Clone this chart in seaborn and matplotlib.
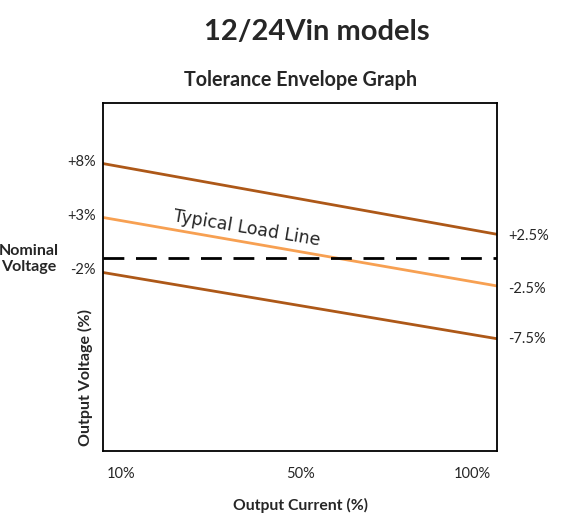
import numpy as np
import pandas as pd
import matplotlib.pyplot as plt
import seaborn as sns

# Output current (%) at the two ends of each envelope line
current = [10, 100]
upper_limit = [8.1, 1.8]      # drawn as +8% -> +2.5%
typical = [3.3, -2.8]         # drawn as +3% -> -2.5%
lower_limit = [-1.6, -7.5]    # drawn as -2% -> -7.5%
nominal = -0.3

left_labels = ["+8%", "+3%", "-2%"]
right_labels = ["+2.5%", "-2.5%", "-7.5%"]
x_labels = ["10%", "50%", "100%"]

df = pd.DataFrame({
    "current": current * 3,
    "voltage": upper_limit + typical + lower_limit,
    "line": ["upper"] * 2 + ["typical"] * 2 + ["lower"] * 2,
})

sns.set_style("white")
plt.rcParams['font.family'] = ['Lato', 'DejaVu Sans']

fig = plt.figure(figsize=(5.72, 5.18), dpi=100)
ax = fig.add_axes([0.180, 0.1293, 0.689, 0.672])

brown = "#AD5818"
orange = "#F7A052"
palette = {"upper": brown, "typical": orange, "lower": brown}

sns.lineplot(data=df, x="current", y="voltage", hue="line", palette=palette,
             linewidth=2.0, legend=False, ax=ax)
ax.axhline(nominal, color="black", linewidth=2.0, dashes=(7.5, 4.2))

ax.set_xlim(10, 100)
ax.set_ylim(-17.5, 13.5)
ax.set_xticks([])
ax.set_yticks([])
ax.set_xlabel("")
ax.set_ylabel("")
for s in ax.spines.values():
    s.set_color("black")
    s.set_linewidth(1.3)

# left and right end labels
for v, lab, dy in zip([upper_limit[0], typical[0], lower_limit[0]], left_labels, [1, 1, 2]):
    ax.annotate(lab, xy=(0, v), xycoords=("axes fraction", "data"),
                xytext=(-5, dy), textcoords="offset points",
                ha="right", va="center", fontsize=10.5)
for v, lab, dy in zip([upper_limit[1], typical[1], lower_limit[1]], right_labels, [-1.5, -2, 0]):
    ax.annotate(lab, xy=(1, v), xycoords=("axes fraction", "data"),
                xytext=(8, dy), textcoords="offset points",
                ha="left", va="center", fontsize=10.5)

for xf, lab in zip([0.047, 0.502, 0.936], x_labels):
    ax.text(xf, -0.065, lab, transform=ax.transAxes, ha="center", va="center", fontsize=10.5)

ax.text(0.5, -0.155, "Output Current (%)", transform=ax.transAxes,
        ha="center", va="center", fontsize=11.3, weight="bold")

fig.text(0.149, 0.272, "Output Voltage (%)", rotation=90, ha="center", va="center",
         fontsize=11.5, weight="bold")
fig.text(0.051, 0.500, "Nominal\nVoltage", ha="center", va="center",
         fontsize=11.5, weight="bold", linespacing=1.15)

ax.text(0.365, 0.641, "Typical Load Line", transform=ax.transAxes, rotation=-9.5,
        ha="center", va="center", fontsize=12.5, family="DejaVu Sans",
        rotation_mode="anchor")

fig.text(0.554, 0.938, "12/24Vin models", ha="center", va="center",
         fontsize=21, weight="bold")
fig.text(0.526, 0.846, "Tolerance Envelope Graph", ha="center", va="center",
         fontsize=14.2, weight="bold")

plt.savefig("out.png", dpi=100)
